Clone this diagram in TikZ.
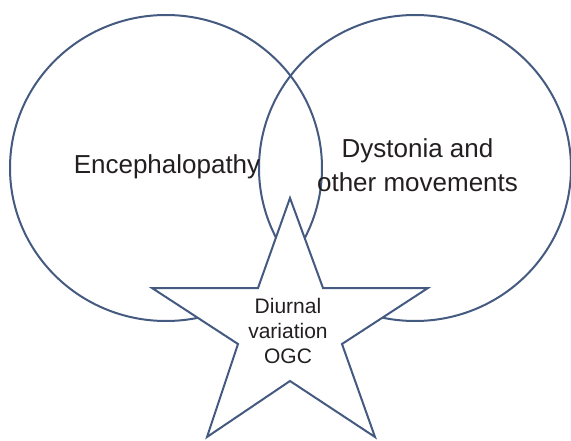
\documentclass[tikz,border=0pt]{standalone}
\usepackage{fontspec}
\setmainfont{Liberation Sans}
\usepackage{xcolor}
\usetikzlibrary{positioning}
\definecolor{vennline}{RGB}{68,90,128}
\definecolor{venntext}{RGB}{35,31,32}
\tikzset{
ring/.style={
draw=vennline,
line width=2pt
},
bigtext/.style={
align=center,
inner sep=0pt,
text=venntext,
font=\fontsize{26}{33.4}\selectfont
},
smalltext/.style={
align=center,
inner sep=0pt,
text=venntext,
font=\fontsize{21}{25}\selectfont
}
}

\begin{document}
\begin{tikzpicture}[x=1pt,y=-1pt]

\useasboundingbox (0,0) rectangle (571,441);

% the two sets
\draw[ring](166,168) ellipse [x radius=156, y radius=153];
\draw[ring](415,168) ellipse [x radius=156, y radius=153];

% star on top
\draw[ring,fill=white](290,198)--(323,288)--(428,288)--(342,344)--(375,437)
--(290,381)--(207,437)--(238,344)--(152,288)--(258,288)--cycle;

\node[bigtext,anchor=base](enc) at (167,174){Encephalopathy};

\node[bigtext](dys) at (417.5,165.4){Dystonia and\\other movements};

\node[smalltext](ogc) at (288,330.7){Diurnal\\variation\\OGC};

\end{tikzpicture}
\end{document}
